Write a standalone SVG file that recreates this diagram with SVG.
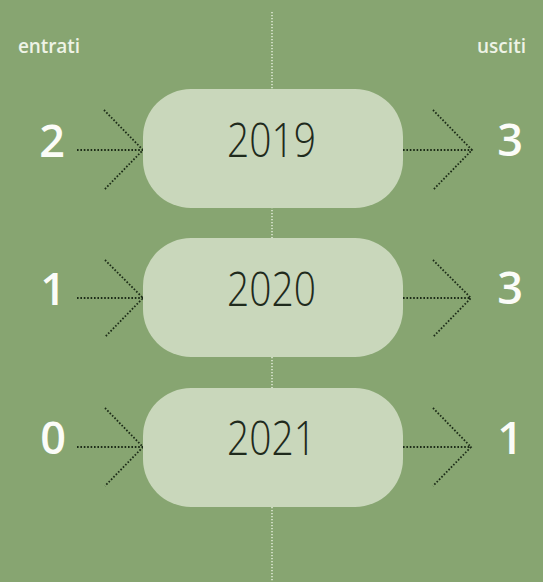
<svg xmlns="http://www.w3.org/2000/svg" width="543" height="582" viewBox="0 0 543 582">
<style>
.bg{fill:#87a571}
.pill{fill:#c9d7bb}
.year{font-family:"Open Sans","Liberation Sans",sans-serif;font-weight:300;font-size:47px;fill:#1f2a1c;text-anchor:middle}
.num{font-family:"Open Sans","Liberation Sans",sans-serif;font-weight:600;font-size:45px;fill:#fbfcf8;text-anchor:middle}
.lbl{font-family:"Open Sans","Liberation Sans",sans-serif;font-weight:600;font-size:19px;fill:#eef3e6}
.vline{stroke:#e4ecd9;stroke-width:1.5;stroke-dasharray:1.2 1.8;fill:none}
.arr{stroke:#1c2b17;stroke-width:1.8;stroke-dasharray:1.6 1.8;fill:none}
</style>
<rect class="bg" x="0" y="0" width="543" height="582"/>
<g id="connectors">
<line class="vline" x1="272" y1="12" x2="272" y2="582"/>
<path class="arr" d="M77 150H143M104 110L143 150L104 190"/>
<path class="arr" d="M403 150H472M433 110L472 150L433 190"/>
<path class="arr" d="M77 298H143M105 260L143 298L105 337"/>
<path class="arr" d="M403 298H471M433 260L471 298L433 337"/>
<path class="arr" d="M77 447H143M105 408L143 447L105 486"/>
<path class="arr" d="M403 447H471M433 408L471 447L433 486"/>
</g>
<g id="labels">
<text class="lbl" x="18" y="53" textLength="62">entrati</text>
<text class="lbl" x="477" y="53" textLength="49">usciti</text>
</g>
<g id="node-2019">
<rect class="pill" x="143" y="89" width="260" height="119" rx="48"/>
<text class="year" x="271.5" y="157" textLength="89" lengthAdjust="spacingAndGlyphs">2019</text>
</g>
<g id="node-2020">
<rect class="pill" x="143" y="238" width="260" height="119" rx="48"/>
<text class="year" x="271.5" y="306" textLength="89" lengthAdjust="spacingAndGlyphs">2020</text>
</g>
<g id="node-2021">
<rect class="pill" x="143" y="388" width="260" height="119" rx="48"/>
<text class="year" x="271.5" y="455" textLength="89" lengthAdjust="spacingAndGlyphs">2021</text>
</g>
<g id="in-values">
<text class="num" x="52" y="157">2</text>
<text class="num" x="53" y="305">1</text>
<text class="num" x="53" y="454">0</text>
</g>
<g id="out-values">
<text class="num" x="510" y="156">3</text>
<text class="num" x="510" y="304">3</text>
<text class="num" x="510" y="454">1</text>
</g>
</svg>
